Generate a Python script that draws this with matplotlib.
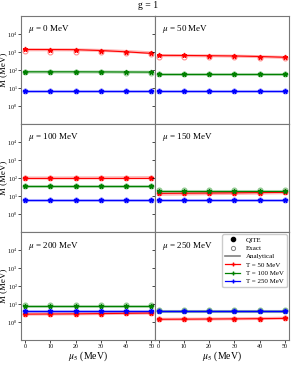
import numpy as np
import matplotlib.pyplot as plt
from matplotlib.lines import Line2D

plt.rcParams['font.family'] = ['Liberation Serif', 'DejaVu Serif']
plt.rcParams['mathtext.fontset'] = 'stix'

mu5 = [0, 10, 20, 30, 40, 50]
mu_vals = [0, 50, 100, 150, 200, 250]
temps = ['T = 50 MeV', 'T = 100 MeV', 'T = 250 MeV']
colores = ['#ff0000', '#008000', '#0000ff']

# QITE (puntos llenos), en MeV, por mu y por T
qite = {
    0: [[1350, 1340, 1320, 1180, 1000, 820], [78, 78, 78, 77, 76, 75], [6.3, 6.3, 6.3, 6.3, 6.3, 6.3]],
    50: [[640, 630, 610, 590, 550, 500], [62, 62, 62, 62, 62, 62], [6.3, 6.3, 6.3, 6.3, 6.3, 6.3]],
    100: [[100, 100, 100, 100, 100, 100], [37, 37, 37, 37, 37, 37], [6.3, 6.3, 6.3, 6.3, 6.3, 6.3]],
    150: [[14, 14.3, 14.6, 15, 15.5, 16], [19.5, 19.5, 19.5, 19.5, 19.5, 19.5], [5.8, 5.8, 5.8, 5.8, 5.8, 5.8]],
    200: [[2.8, 2.85, 2.9, 3.0, 3.1, 3.2], [7.6, 7.6, 7.6, 7.6, 7.6, 7.6], [4.4, 4.4, 4.4, 4.4, 4.4, 4.4]],
    250: [[1.45, 1.47, 1.5, 1.53, 1.57, 1.62], [4.1, 4.1, 4.1, 4.1, 4.1, 4.1], [4.0, 4.0, 4.0, 4.0, 4.0, 4.0]],
}
# Exact (circulos abiertos)
exacto = {
    0: [[1050, 1000, 960, 920, 880, 760], [72, 72, 72, 72, 71, 70], [6.3, 6.3, 6.3, 6.3, 6.3, 6.3]],
    50: [[540, 540, 530, 520, 480, 440], [58, 58, 58, 58, 58, 58], [6.3, 6.3, 6.3, 6.3, 6.3, 6.3]],
    100: [[100, 100, 100, 100, 100, 100], [37, 37, 37, 37, 37, 37], [6.3, 6.3, 6.3, 6.3, 6.3, 6.3]],
    150: [[14, 14.3, 14.6, 15, 15.5, 16], [21, 21, 21, 21, 21, 21], [5.8, 5.8, 5.8, 5.8, 5.8, 5.8]],
    200: [[2.8, 2.85, 2.9, 3.0, 3.1, 3.2], [9.0, 9.0, 9.0, 9.0, 9.0, 9.0], [4.4, 4.4, 4.4, 4.4, 4.4, 4.4]],
    250: [[1.45, 1.47, 1.5, 1.53, 1.57, 1.62], [4.9, 4.9, 4.9, 4.9, 4.9, 4.9], [4.0, 4.0, 4.0, 4.0, 4.0, 4.0]],
}
# Analytical (linea gruesa clara)
analitico = {
    0: [[1300, 1300, 1290, 1200, 1050, 880], [76, 76, 76, 76, 75, 74], [6.3, 6.3, 6.3, 6.3, 6.3, 6.3]],
    50: [[620, 610, 600, 580, 540, 490], [60, 60, 60, 60, 60, 60], [6.3, 6.3, 6.3, 6.3, 6.3, 6.3]],
    100: [[100, 100, 101, 102, 103, 105], [37, 37, 37, 37, 37, 37], [6.3, 6.3, 6.3, 6.3, 6.3, 6.3]],
    150: [[12.5, 13, 13.5, 14, 14.6, 15.3], [20, 20, 20, 20, 20, 20], [5.8, 5.8, 5.8, 5.8, 5.8, 5.8]],
    200: [[2.8, 2.85, 2.9, 3.0, 3.1, 3.2], [7.6, 7.6, 7.6, 7.6, 7.6, 7.6], [4.4, 4.4, 4.4, 4.4, 4.4, 4.4]],
    250: [[1.45, 1.47, 1.5, 1.55, 1.6, 1.66], [4.1, 4.1, 4.1, 4.1, 4.1, 4.1], [4.0, 4.0, 4.0, 4.0, 4.0, 4.0]],
}

fig, axes = plt.subplots(3, 2, figsize=(2.96, 3.67), dpi=100, sharex=True, sharey=True)
fig.subplots_adjust(left=0.072, right=0.975, top=0.957, bottom=0.073, hspace=0, wspace=0)

for ax, mu in zip(axes.flat, mu_vals):
    for i, c in enumerate(colores):
        ax.plot(mu5, analitico[mu][i], color=c, lw=2.2, alpha=0.3, zorder=1)
        ax.plot(mu5, exacto[mu][i], 'o', color=c, mfc='none', ms=3.5, mew=0.8, alpha=0.45, zorder=2)
        ax.plot(mu5, qite[mu][i], color=c, lw=0.8, marker='*', ms=3.5, zorder=3)
    ax.set_yscale('log')
    ax.set_ylim(0.1, 1e5)
    ax.set_xlim(-1.5, 51.5)
    ax.set_yticks([1, 10, 100, 1000, 10000])
    ax.minorticks_off()
    ax.set_xticks(mu5)
    ax.tick_params(labelsize=4.3, length=2, width=0.5, pad=0.8)
    for s in ax.spines.values():
        s.set_color('#777777')
        s.set_linewidth(0.8)
    ax.text(0.05, 0.93, r'$\mu$ = %d MeV' % mu, transform=ax.transAxes,
            fontsize=6.5, va='top', ha='left')

for ax in axes[:, 0]:
    ax.set_ylabel('M (MeV)', fontsize=6.5, labelpad=0.3)
for ax in axes[-1, :]:
    ax.set_xlabel(r'$\mu_5$ (MeV)', fontsize=7, labelpad=0)

handles = [
    Line2D([], [], ls='none', marker='o', color='black', ms=3),
    Line2D([], [], ls='none', marker='o', mfc='none', color='gray', ms=3, mew=0.7),
    Line2D([], [], color='gray', lw=1.2),
]
for c in colores:
    handles.append(Line2D([], [], color=c, lw=0.9, marker='+', ms=3))
axes[2, 1].legend(handles, ['QITE', 'Exact', 'Analytical'] + temps, loc='upper right',
                  fontsize=5, framealpha=1, edgecolor='#cccccc', handlelength=2.2,
                  borderpad=0.4, labelspacing=0.35, borderaxespad=0.3)

fig.suptitle('g = 1', fontsize=7, y=0.998)
fig.savefig('out.png', dpi=100)
